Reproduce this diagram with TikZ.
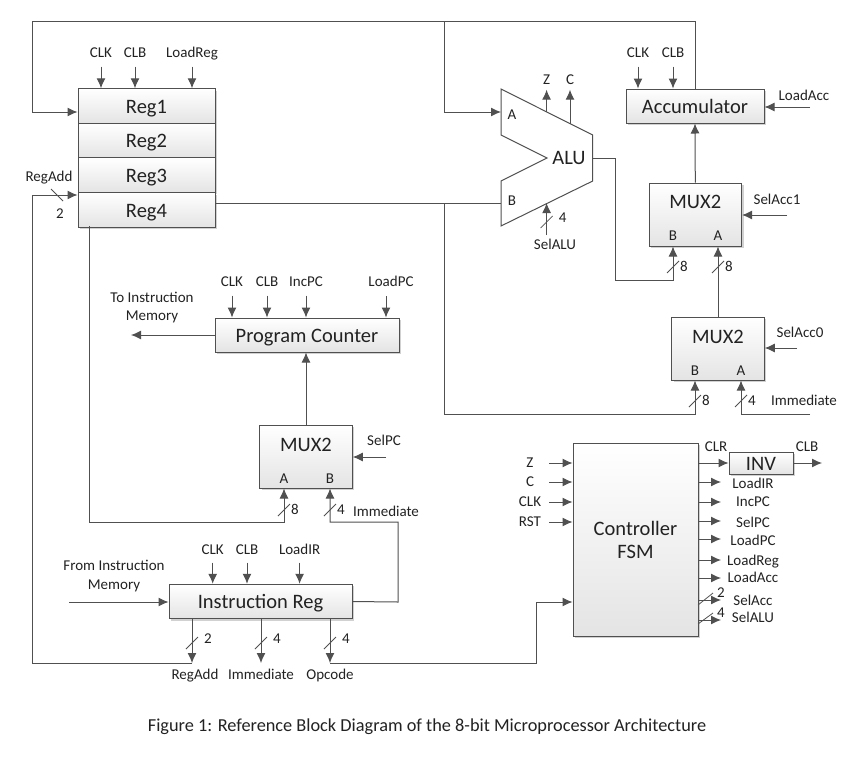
\documentclass[tikz,border=0pt]{standalone}
\usepackage{fontspec}
\setmainfont{Carlito}
\usetikzlibrary{arrows.meta, positioning, calc, shadows}
\definecolor{wire}{HTML}{505050}
\definecolor{boxend}{HTML}{E4E4E4}
\definecolor{ink}{HTML}{222222}
\begin{document}
\begin{tikzpicture}[
    x=1pt, y=-1pt,
    box/.style={draw=wire, line width=1pt, top color=white, bottom color=boxend, inner sep=0pt,
                drop shadow={shadow xshift=2pt, shadow yshift=-2pt, opacity=0.18, fill=black},
                font=\fontsize{20.5}{22}\selectfont, text=ink},
    lbox/.style={box, text height=16pt, text depth=1.4pt},
    big/.style={font=\fontsize{20.5}{22}\selectfont, text=ink, inner sep=0pt},
    sig/.style={font=\fontsize{15}{16}\selectfont, text=ink, inner sep=1pt, text height=10pt, text depth=1pt},
    arrow/.style={-{Latex[length=10pt,width=9pt]}, draw=wire, line width=1pt},
    wireline/.style={draw=wire, line width=1pt},
    slash/.style={draw=wire, line width=0.8pt},
    bus/.pic={
        \draw[slash] (-6,6) -- (6,-6);
        \node[sig] (-wd) at (11,0) {\tikzpictext};
    },
    buswide/.pic={
        \draw[slash] (-6,6) -- (6,-6);
        \node[sig] (-wd) at (16,-4) {\tikzpictext};
    }
]
    \useasboundingbox (0,0) rectangle (854,756);

    % register file
    \node[lbox, minimum width=137pt, minimum height=34.5pt] (reg1) at (146.5,106) {Reg1};
    \node[lbox, minimum width=137pt, minimum height=34.5pt, below=-0.9pt of reg1] (reg2) {Reg2};
    \node[lbox, minimum width=137pt, minimum height=34.5pt, below=-0.9pt of reg2] (reg3) {Reg3};
    \node[lbox, minimum width=137pt, minimum height=34.5pt, below=-0.9pt of reg3] (reg4) {Reg4};
    \node[sig] (rclk) at (101,53) {CLK};
    \node[sig] (rclb) at (135,53) {CLB};
    \node[sig] (rload) at (192,53) {LoadReg};
    \foreach \nm in {rclk,rclb,rload}
        \draw[arrow] ($(\nm.south)+(0,7)$) -- (\nm.south |- reg1.north);

    % ALU
    \coordinate (alua) at (501,112);
    \coordinate (alub) at (501,203.5);
    \coordinate (aluz) at (546.6,112);
    \coordinate (aluc) at (570,123.6);
    \coordinate (alus) at (546.6,203);
    \coordinate (aluo) at (592.7,158);
    \draw[wireline, fill=white] (501,89) -- (592.7,135) -- (592.7,181) -- (501,226) -- (501,181)
        -- (547,158) -- (501,135) -- cycle;
    \node[big] (alu) at (569,158) {ALU};
    \node[sig] (alulA) at (512,115) {A};
    \node[sig] (alulB) at (512,201) {B};
    \node[sig] (zout) at (546.6,80) {Z};
    \node[sig] (cout) at (570,80) {C};
    \node[sig] (selalu) at (555,245) {SelALU};
    \draw[arrow, shorten >=3pt] (aluz) -- (zout.south);
    \draw[arrow, shorten >=3pt] (aluc) -- (cout.south);
    \coordinate (selalus) at (546.6,235);
    \draw[arrow] (selalus) -- (alus);
    \pic[pic text=4] (bs) at (546.6,222) {buswide};

    % accumulator side
    \node[lbox, minimum width=138pt, minimum height=34pt] (acc) at (695,106) {Accumulator};
    \node[sig] (aclk) at (638,53) {CLK};
    \node[sig] (aclb) at (673,53) {CLB};
    \foreach \nm in {aclk,aclb}
        \draw[arrow] ($(\nm.south)+(0,7)$) -- (\nm.south |- acc.north);
    \node[sig] (loadacc) at (804,96) {LoadAcc};
    \coordinate (loadaccs) at (810,107);
    \draw[arrow] (loadaccs) -- (acc.east |- loadaccs);

    \node[box, minimum width=92.5pt, minimum height=63pt] (muxa) at (695.3,214.5) {};
    \node[big] (muxat) at (695.3,202) {MUX2};
    \node[sig] (muxaB) at (673,236) {B};
    \node[sig] (muxaA) at (718,236) {A};
    \node[sig] (selacc1) at (777,200) {SelAcc1};
    \coordinate (selacc1s) at (787,215);
    \draw[arrow] (selacc1s) -- (muxa.east |- selacc1s);
    \draw[arrow] (muxa.north) -- (acc.south);

    \node[box, minimum width=92.5pt, minimum height=63pt] (muxb) at (718,348.5) {};
    \node[big] (muxbt) at (718,337) {MUX2};
    \node[sig] (muxbB) at (695,371) {B};
    \node[sig] (muxbA) at (741,371) {A};
    \node[sig] (selacc0) at (800,333) {SelAcc0};
    \coordinate (selacc0s) at (797,348);
    \draw[arrow] (selacc0s) -- (muxb.east |- selacc0s);
    \node[sig] (immb) at (804,401) {Immediate};
    \coordinate (immbs) at (810,414);

    \draw[arrow] (muxb.north) -- (muxaA.center |- muxa.south);
    \draw[arrow] (aluo) -- (615,158) -- (615,280) -- (673,280) -- (muxaB.center |- muxa.south);
    \draw[arrow] (immbs) -| (muxbA.center |- muxb.south);

    \pic[pic text=8] (b1) at (673,267) {bus};
    \pic[pic text=8] (b2) at (718,267) {bus};
    \pic[pic text=8] (b3) at (695,401) {bus};
    \pic[pic text=4] (b4) at (741,401) {bus};

    % program counter
    \node[lbox, minimum width=184pt, minimum height=34pt] (pc) at (307,335) {Program Counter};
    \node[sig] (pclk) at (232,282) {CLK};
    \node[sig] (pclb) at (267,282) {CLB};
    \node[sig] (pinc) at (306,282) {IncPC};
    \node[sig] (pload) at (391,282) {LoadPC};
    \foreach \nm in {pclk,pclb,pinc}
        \draw[arrow] ($(\nm.south)+(0,7)$) -- (\nm.south |- pc.north);
    \coordinate (ploads) at (386,296);
    \draw[arrow] (ploads) -- (ploads |- pc.north);
    \node[sig] (toim) at (152,298) {To Instruction};
    \node[sig] (toim2) at (152,316) {Memory};
    \coordinate (toimt) at (131,335);
    \draw[arrow] (pc.west) -- (toimt);

    \node[box, minimum width=92.5pt, minimum height=63pt] (muxc) at (306,456.5) {};
    \node[big] (muxct) at (306,445) {MUX2};
    \node[sig] (muxcA) at (284,479) {A};
    \node[sig] (muxcB) at (330,479) {B};
    \node[sig] (selpc) at (384,441) {SelPC};
    \coordinate (selpcs) at (386,457);
    \draw[arrow] (selpcs) -- (muxc.east |- selpcs);
    \draw[arrow] (muxc.north) -- (pc.south -| muxc.north);

    % instruction register
    \node[lbox, minimum width=183pt, minimum height=34.5pt] (ir) at (260.5,601.5) {Instruction Reg};
    \node[sig] (iclk) at (212.7,550) {CLK};
    \node[sig] (iclb) at (247,550) {CLB};
    \node[sig] (iload) at (299.6,550) {LoadIR};
    \foreach \nm in {iclk,iclb,iload}
        \draw[arrow] ($(\nm.south)+(0,6)$) -- (\nm.south |- ir.north);
    \node[sig] (fromim) at (114,566) {From Instruction};
    \node[sig] (fromim2) at (114,585) {Memory};
    \coordinate (fromims) at (69,602);
    \draw[arrow] (fromims) -- (ir.west |- fromims);

    \node[sig] (oreg) at (195,675) {RegAdd};
    \node[sig] (oimm) at (261,675) {Immediate};
    \node[sig] (oop) at (330,675) {Opcode};
    \coordinate (oregt) at (192,663);
    \coordinate (oimmt) at (261,663);
    \coordinate (oopt) at (330,663);
    \draw[arrow] (ir.south -| oregt) -- (oregt);
    \draw[arrow] (ir.south -| oimmt) -- (oimmt);
    \draw[arrow] (ir.south -| oopt) -- (oopt);
    \pic[pic text=2] (b5) at (192,643) {buswide};
    \pic[pic text=4] (b6) at (261,643) {buswide};
    \pic[pic text=4] (b7) at (330,643) {buswide};

    % controller
    \node[box, minimum width=125pt, minimum height=193pt, align=center] (fsm) at (635.5,539.5) {Controller\\[1pt]FSM};
    \node[lbox, minimum width=64pt, minimum height=22pt] (inv) at (761,463) {INV};
    \node[sig] (clr) at (716,447) {CLR};
    \node[sig] (clb) at (807,447) {CLB};
    \coordinate (clbt) at (822,463);
    \draw[arrow] (fsm.east |- inv.west) -- (inv.west);
    \draw[arrow] (inv.east) -- (clbt);

    \foreach \nm/\yin in {Z/463,C/482,CLK/502,RST/522} {
        \node[sig] (i\nm) at (530,\yin) {\nm};
        \coordinate (s\nm) at (549,\yin);
        \draw[arrow] (s\nm) -- (fsm.west |- s\nm);
    }
    \foreach \nm/\yout/\ylab in {LoadIR/482/484,IncPC/502/502,SelPC/521/523,LoadPC/539/541,
                                 LoadReg/560/561,LoadAcc/578/578,SelAcc/600/601,SelALU/620/618} {
        \coordinate (o\nm) at (721,\yout);
        \node[sig] (l\nm) at (753,\ylab) {\nm};
        \draw[arrow] (fsm.east |- o\nm) -- (o\nm);
    }
    \draw[slash] (698,605) -- (713,593);
    \draw[slash] (698,624) -- (713,613);
    \node[sig] (w2) at (721,593) {2};
    \node[sig] (w4) at (721,613) {4};

    % long wires
    \coordinate (topl) at (32,21);
    \coordinate (topr) at (695,21);
    \coordinate (jtop) at (444,21);
    \coordinate (jbot) at (444,203.5);
    \coordinate (regout) at (reg4.east |- jbot);
    \draw[arrow] (acc.north) -- (topr) -- (topl) |- (reg1.west |- 0,112);
    \draw[arrow] (jtop) |- (alua);
    \draw[wireline] (regout) -- (alub);
    \draw[arrow] (jbot) -- (444,414) -- (695,414) -- (muxbB.center |- muxb.south);

    \draw[arrow] (89.5,226) -- (89.5,522) -- (284,522) -- (muxcA.center |- muxc.south);
    \draw[arrow] (ir.east) -- (398,602) -- (398,522) -- (330,522) -- (muxcB.center |- muxc.south);
    \pic[pic text=8] (b8) at (284,510) {bus};
    \pic[pic text=4] (b9) at (330,510) {bus};
    \node[sig] (immc) at (386,512) {Immediate};

    \draw[arrow] (oregt) -- (32,663) -- (32,195) -- (reg4.west |- 0,195);
    \draw[slash] (51,189) -- (63,201);
    \node[sig] (regadd) at (49,177) {RegAdd};
    \node[sig] (regw) at (60,214) {2};

    \draw[arrow] (oopt) -- (536,663) -- (536,602) -- (fsm.west |- 0,602);

    \node[font=\fontsize{18.3}{20}\selectfont, text=ink, inner sep=0pt] (caption) at (427,727)
        {Figure 1: Reference Block Diagram of the 8-bit Microprocessor Architecture};
\end{tikzpicture}
\end{document}
